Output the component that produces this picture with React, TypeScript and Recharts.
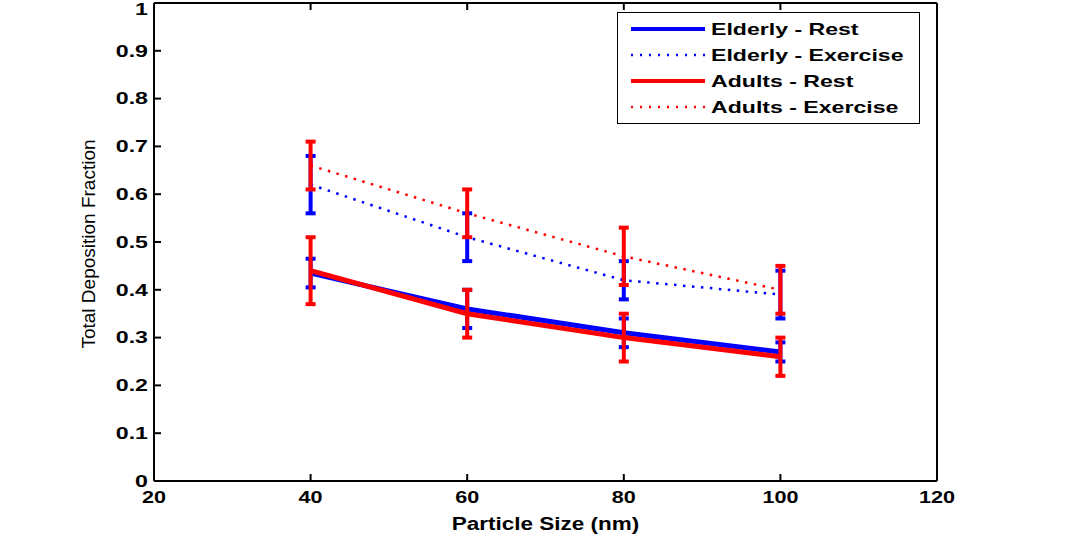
import React from 'react';
import { LineChart, Line, XAxis, YAxis, ErrorBar, Legend } from 'recharts';

// particle sizes (nm)
const sizes = [40, 60, 80, 100];

const elderlyRest = [0.435, 0.36, 0.31, 0.27];
const elderlyRestErr = [0.03, 0.04, 0.03, 0.02];
const elderlyExercise = [0.62, 0.51, 0.42, 0.39];
const elderlyExerciseErr = [0.06, 0.05, 0.04, 0.05];
const adultsRest = [0.44, 0.35, 0.30, 0.26];
const adultsRestErr = [0.07, 0.05, 0.05, 0.04];
const adultsExercise = [0.66, 0.56, 0.47, 0.40];
const adultsExerciseErr = [0.05, 0.05, 0.06, 0.05];

const xTicks = [20, 40, 60, 80, 100, 120];
const yTicks = [0, 0.1, 0.2, 0.3, 0.4, 0.5, 0.6, 0.7, 0.8, 0.9, 1];

const seriesInfo = [
    { key: 'elderlyRest', name: 'Elderly - Rest', color: '#0000ff', dotted: false },
    { key: 'elderlyExercise', name: 'Elderly - Exercise', color: '#0000ff', dotted: true },
    { key: 'adultsRest', name: 'Adults - Rest', color: '#ff0000', dotted: false },
    { key: 'adultsExercise', name: 'Adults - Exercise', color: '#ff0000', dotted: true },
];

const data = sizes.map((size, i) => ({
    size,
    elderlyRest: elderlyRest[i],
    elderlyRestErr: elderlyRestErr[i],
    elderlyExercise: elderlyExercise[i],
    elderlyExerciseErr: elderlyExerciseErr[i],
    adultsRest: adultsRest[i],
    adultsRestErr: adultsRestErr[i],
    adultsExercise: adultsExercise[i],
    adultsExerciseErr: adultsExerciseErr[i],
}));

const FONT = '"Liberation Sans", Arial, sans-serif';

const XTick = (props: any) => {
    const { x, y, payload } = props;
    return (
        <g transform={`translate(${x},${y}) scale(1.35,1)`}>
            <text textAnchor="middle" dy="0.71em" fontFamily={FONT} fontWeight="bold" fontSize={16} fill="#000">
                {payload.value}
            </text>
        </g>
    );
};

const YTick = (props: any) => {
    const { x, y, payload } = props;
    const label = String(Math.round(payload.value * 10) / 10);
    return (
        <g transform={`translate(${x},${y}) scale(1.45,1)`}>
            <text textAnchor="end" dy="0.36em" fontFamily={FONT} fontWeight="bold" fontSize={16} fill="#000">
                {label}
            </text>
        </g>
    );
};

const LegendBox = () => (
    <svg width={303} height={112} style={{ display: 'block' }}>
        <rect x={0.5} y={0.5} width={302} height={111} fill="#fff" stroke="#000" strokeWidth={1} />
        {seriesInfo.map((s, i) => {
            const cy = 17 + i * 26;
            return (
                <g key={s.key}>
                    <line
                        x1={14}
                        x2={88}
                        y1={cy}
                        y2={cy}
                        stroke={s.color}
                        strokeWidth={s.dotted ? 2.5 : 4}
                        strokeDasharray={s.dotted ? '2 7' : undefined}
                    />
                    <g transform={`translate(94,${cy}) scale(1.4,1)`}>
                        <text dy="0.36em" fontFamily={FONT} fontWeight="bold" fontSize={16.5} fill="#000">
                            {s.name}
                        </text>
                    </g>
                </g>
            );
        })}
    </svg>
);

const XLabel = (props: any) => {
    const { viewBox } = props;
    const cx = viewBox.x + viewBox.width / 2;
    return (
        <g transform={`translate(${cx},${viewBox.y + 43}) scale(1.25,1)`}>
            <text textAnchor="middle" dy="0.36em" fontFamily={FONT} fontWeight="bold" fontSize={18} fill="#000">
                Particle Size (nm)
            </text>
        </g>
    );
};

const YLabel = (props: any) => {
    const { viewBox } = props;
    const cy = viewBox.y + viewBox.height / 2;
    return (
        <text
            transform={`translate(88,${cy + 2}) rotate(-90)`}
            textAnchor="middle"
            dy="0.36em"
            fontFamily={FONT}
            fontSize={19}
            fill="#000"
        >
            Total Deposition Fraction
        </text>
    );
};

export default function App() {
    return (
        <div style={{ position: 'absolute', left: 0, top: 0, width: 1082, height: 536, background: '#fff' }}>
            <LineChart width={1082} height={536} data={data} margin={{ top: 2, right: 144, bottom: 0, left: 0 }}>
                <XAxis
                    dataKey="size"
                    type="number"
                    domain={[20, 120]}
                    ticks={xTicks}
                    height={55}
                    tickSize={-7}
                    tickMargin={18}
                    tick={<XTick />}
                    axisLine={{ stroke: '#000', strokeWidth: 2 }}
                    tickLine={{ stroke: '#000', strokeWidth: 2 }}
                    label={<XLabel />}
                />
                <XAxis
                    xAxisId="top"
                    orientation="top"
                    dataKey="size"
                    type="number"
                    domain={[20, 120]}
                    ticks={xTicks}
                    height={1}
                    tickSize={-7}
                    tickFormatter={() => ''}
                    axisLine={{ stroke: '#000', strokeWidth: 2 }}
                    tickLine={{ stroke: '#000', strokeWidth: 2 }}
                />
                <YAxis
                    type="number"
                    domain={[0, 1]}
                    ticks={yTicks}
                    width={154}
                    tickSize={-7}
                    tickMargin={13}
                    tick={<YTick />}
                    axisLine={{ stroke: '#000', strokeWidth: 2 }}
                    tickLine={{ stroke: '#000', strokeWidth: 2 }}
                    label={<YLabel />}
                />
                <YAxis
                    yAxisId="right"
                    orientation="right"
                    type="number"
                    domain={[0, 1]}
                    ticks={yTicks}
                    width={1}
                    tickSize={-7}
                    tickFormatter={() => ''}
                    axisLine={{ stroke: '#000', strokeWidth: 2 }}
                    tickLine={{ stroke: '#000', strokeWidth: 2 }}
                />
                <Legend
                    layout="vertical"
                    align="center"
                    verticalAlign="middle"
                    content={<LegendBox />}
                    wrapperStyle={{ position: 'absolute', left: 617, top: 12, width: 303, height: 112 }}
                />
                {seriesInfo.map((s) => (
                    <Line
                        key={s.key}
                        type="linear"
                        dataKey={s.key}
                        name={s.name}
                        stroke={s.color}
                        strokeWidth={s.dotted ? 2.5 : 5}
                        strokeDasharray={s.dotted ? '2.5 6.5' : undefined}
                        dot={false}
                        activeDot={false}
                        isAnimationActive={false}
                    >
                        <ErrorBar
                            dataKey={s.key + 'Err'}
                            direction="y"
                            width={5}
                            stroke={s.color}
                            strokeWidth={4}
                            isAnimationActive={false}
                        />
                    </Line>
                ))}
            </LineChart>
        </div>
    );
}
